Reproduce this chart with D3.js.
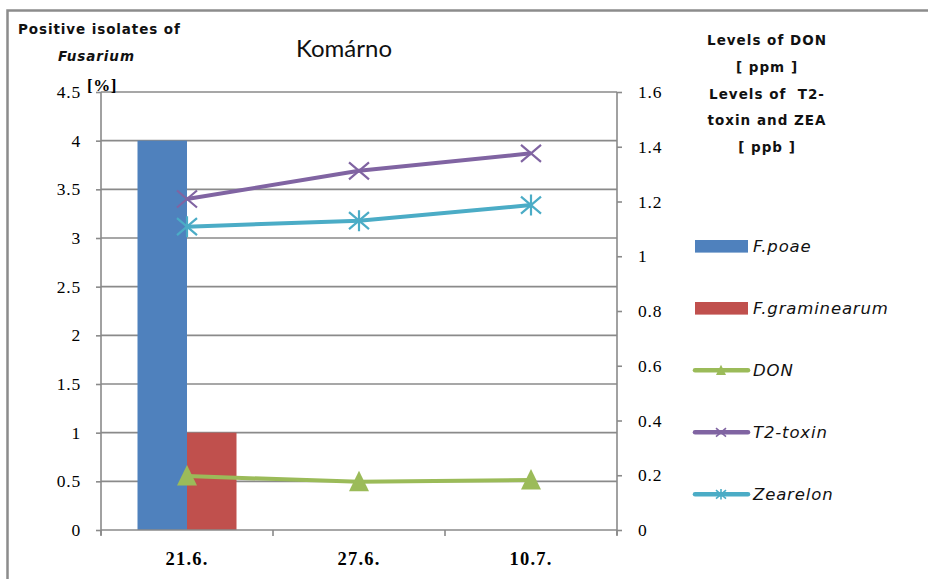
<!DOCTYPE html>
<html><head><meta charset="utf-8">
<script src="https://cdn.jsdelivr.net/npm/d3@7"></script>
<style>body{margin:0;background:#fff}svg{display:block}</style>
</head><body><svg id="c" width="928" height="579"></svg>
<script>
const categories = ["21.6.", "27.6.", "10.7."];
const fPoae = [4, null, null];
const fGraminearum = [1, null, null];
const don = [0.197, 0.176, 0.183];
const t2toxin = [1.209, 1.312, 1.376];
const zearelon = [1.108, 1.13, 1.187];
const leftTicks = [0, 0.5, 1, 1.5, 2, 2.5, 3, 3.5, 4, 4.5];
const rightTicks = [0, 0.2, 0.4, 0.6, 0.8, 1, 1.2, 1.4, 1.6];

const svg = d3.select("#c");
const L = 101, R = 617, T = 92, B = 530;
const sans = "'DejaVu Sans', sans-serif";
const titleFont = "Lato, 'Open Sans', sans-serif";
const serif = "'Liberation Serif', 'DejaVu Serif', serif";
const grid = "#8a8a8a";

// frame
svg.append("path").attr("d", "M7.5,579 L7.5,10.5 L928,10.5").attr("fill","none").attr("stroke","#8c8c8c").attr("stroke-width",2.5);

const x = d3.scaleBand().domain(categories).range([L, R]);
const yL = d3.scaleLinear().domain([0, 4.5]).range([B, T]);
const yR = d3.scaleLinear().domain([0, 1.6]).range([B, T]);
const bw = 49.5;

// gridlines
svg.append("g").selectAll("line").data(leftTicks.filter(d=>d>0)).join("line")
  .attr("x1", L).attr("x2", R).attr("y1", d=>yL(d)).attr("y2", d=>yL(d))
  .attr("stroke", grid).attr("stroke-width", 1.6);

// bars
const barData = [];
categories.forEach((c,i)=>{
  if (fPoae[i] != null) barData.push({c, v:fPoae[i], k:0, col:"#4F81BD"});
  if (fGraminearum[i] != null) barData.push({c, v:fGraminearum[i], k:1, col:"#C0504D"});
});
svg.append("g").selectAll("rect").data(barData).join("rect")
  .attr("x", d=> x(d.c) + x.bandwidth()/2 - bw + d.k*bw)
  .attr("width", bw)
  .attr("y", d=>yL(d.v)).attr("height", d=>B - yL(d.v))
  .attr("fill", d=>d.col);

// axes
const axL = svg.append("g").attr("transform", `translate(${L},0)`)
  .call(d3.axisLeft(yL).tickValues(leftTicks).tickSize(5).tickSizeOuter(0).tickFormat(d=>d));
const axR = svg.append("g").attr("transform", `translate(${R},0)`)
  .call(d3.axisRight(yR).tickValues(rightTicks).tickSize(5).tickSizeOuter(0).tickFormat(d=>d));
const axB = svg.append("g").attr("transform", `translate(0,${B})`)
  .call(d3.axisBottom(x).tickSize(0).tickSizeOuter(0));
[axL, axR, axB].forEach(a=>{
  a.attr("font-family", serif).attr("font-size", 17.5);
  a.select(".domain").attr("stroke", grid).attr("stroke-width", 1.6);
  a.selectAll(".tick line").attr("stroke", grid).attr("stroke-width", 1.6);
  a.selectAll("text").attr("fill","#000").style("font-family", serif).style("font-size", "17.5px").attr("letter-spacing", 0.8);
});
axL.select(".domain").attr("d", `M0,${B+5}V${T}`);
axR.select(".domain").attr("d", `M0,${B+5}V${T}`);
axL.selectAll(".tick text").attr("x", -20);
axR.selectAll(".tick text").attr("x", 21);
axB.select(".domain").attr("d", `M${L},0H${R}`);
axB.selectAll(".tick text").attr("font-weight","bold").style("font-size","18.5px").attr("dy", null).attr("y", 35).attr("letter-spacing", 1.2);
// bottom ticks at band edges
svg.append("g").selectAll("line").data([...categories.map(c=>x(c)), R]).join("line")
  .attr("x1", d=>d).attr("x2", d=>d).attr("y1", B).attr("y2", B+6)
  .attr("stroke", grid).attr("stroke-width", 1.6);

// lines
const cx = c => x(c) + x.bandwidth()/2;
const series = [
  {name:"DON", vals:don, col:"#9BBB59", m:"tri"},
  {name:"T2-toxin", vals:t2toxin, col:"#8064A2", m:"x"},
  {name:"Zearelon", vals:zearelon, col:"#4BACC6", m:"star"}
];
function marker(g, m, col, big){
  const s = big ? 1 : 0.5;
  if (m === "tri") {
    const h = 10*s;
    g.append("path").attr("d", `M0,${-h*1.1}L${h},${h*0.95}L${-h},${h*0.95}Z`).attr("fill", col);
  } else {
    const a = 10*s, b = 8.5*s;
    let d = `M${-a},${-b}L${a},${b}M${-a},${b}L${a},${-b}`;
    if (m === "star") d += `M0,${-b-2*s}L0,${b+2*s}`;
    g.append("path").attr("d", d).attr("stroke", col).attr("stroke-width", big ? 2.2 : 1.6).attr("fill","none");
  }
}
const line = d3.line().x((d,i)=>cx(categories[i])).y(d=>yR(d));
series.forEach(s=>{
  svg.append("path").datum(s.vals).attr("d", line).attr("fill","none")
    .attr("stroke", s.col).attr("stroke-width", 4).attr("stroke-linejoin","round");
  s.vals.forEach((v,i)=>{
    const g = svg.append("g").attr("transform", `translate(${cx(categories[i])},${yR(v)})`);
    marker(g, s.m, s.col, true);
  });
});

// titles
svg.append("text").attr("x", 344).attr("y", 57).attr("text-anchor","middle")
  .attr("font-family", titleFont).attr("font-size", 24).attr("fill","#111").text("Komárno");
const lt = svg.append("g").attr("font-family", sans).attr("font-size", 13.5).attr("font-weight","bold").attr("letter-spacing", 0.9).attr("fill","#111");
lt.append("text").attr("x", 18).attr("y", 34).text("Positive isolates of");
lt.append("text").attr("x", 58).attr("y", 61).attr("font-style","italic").text("Fusarium");
svg.append("text").attr("x", 87).attr("y", 91).attr("font-family", serif).attr("font-size", 17).attr("font-weight","bold").attr("letter-spacing", 0.5).text("[%]");
const rt = svg.append("g").attr("font-family", sans).attr("font-size", 13.5).attr("font-weight","bold").attr("letter-spacing", 1).attr("text-anchor","middle").attr("fill","#111");
["Levels of DON","[ ppm ]","Levels of  T2-","toxin and ZEA","[ ppb ]"].forEach((t,i)=>{
  rt.append("text").attr("x", 767).attr("y", 45 + i*26.8).attr("xml:space","preserve").text(t);
});

// legend
const legItems = [
  {name:"F.poae", type:"bar", col:"#4F81BD"},
  {name:"F.graminearum", type:"bar", col:"#C0504D"},
  {name:"DON", type:"line", col:"#9BBB59", m:"tri"},
  {name:"T2-toxin", type:"line", col:"#8064A2", m:"x"},
  {name:"Zearelon", type:"line", col:"#4BACC6", m:"star"}
];
const leg = svg.append("g");
legItems.forEach((d,i)=>{
  const y = 246.3 + i*62;
  const g = leg.append("g").attr("transform", `translate(0,${y})`);
  if (d.type === "bar") {
    g.append("rect").attr("x", 695).attr("y", -6.3).attr("width", 53).attr("height", 12.6).attr("fill", d.col);
  } else {
    g.append("line").attr("x1", 695).attr("x2", 748).attr("y1", 0).attr("y2", 0)
      .attr("stroke", d.col).attr("stroke-width", 4.5).attr("stroke-linecap","round");
    const mg = g.append("g").attr("transform", "translate(721,0)");
    marker(mg, d.m, d.col, false);
  }
  g.append("text").attr("x", 753).attr("y", 6).attr("font-family", sans).attr("font-size", 16.5)
    .attr("letter-spacing", 0.85).attr("font-style","italic").attr("fill","#111").text(d.name);
});
</script></body></html>
